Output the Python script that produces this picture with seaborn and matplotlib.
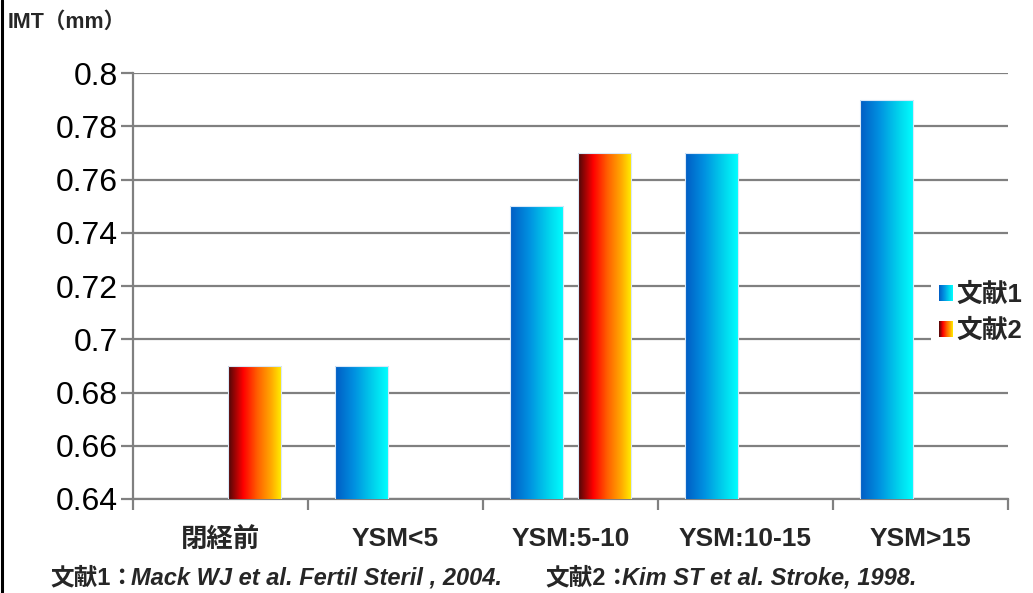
import numpy as np
import pandas as pd
import matplotlib
matplotlib.use("Agg")
import matplotlib.pyplot as plt
import seaborn as sns
from matplotlib.colors import LinearSegmentedColormap, to_rgb
from matplotlib.legend_handler import HandlerBase
from matplotlib.patches import Rectangle, Patch
from matplotlib.lines import Line2D

# ---- data ----
categories = ["閉経前", "YSM<5", "YSM:5-10", "YSM:10-15", "YSM>15"]
series_names = ["文献1", "文献2"]
values_ref1 = [np.nan, 0.69, 0.75, 0.77, 0.79]
values_ref2 = [0.69, np.nan, 0.77, np.nan, np.nan]
yticks = [0.64, 0.66, 0.68, 0.70, 0.72, 0.74, 0.76, 0.78, 0.80]
ytick_labels = ["0.64", "0.66", "0.68", "0.7", "0.72", "0.74", "0.76", "0.78", "0.8"]
y_label = "IMT（mm）"
footer_parts = [("文献1：", "normal"), ("Mack WJ et al. Fertil Steril , 2004.", "italic"),
                ("文献2：", "normal"), ("Kim ST et al. Stroke, 1998.", "italic")]

sns.set_theme(style="white")
plt.rcParams['font.family'] = ['Liberation Sans', 'Noto Sans CJK JP', 'DejaVu Sans']

df = pd.DataFrame({
    "category": categories * 2,
    "series": [series_names[0]] * len(categories) + [series_names[1]] * len(categories),
    "value": values_ref1 + values_ref2,
})

W, H = 1033, 593
fig = plt.figure(figsize=(W / 100, H / 100), dpi=100)
fig.patch.set_facecolor("white")
ax = fig.add_axes([133 / W, 1 - 499 / H, (1008 - 133) / W, (499 - 73) / H])

base_colors = ["#0090e0", "#ff4000"]
sns.barplot(data=df, x="category", y="value", hue="series", order=categories,
            hue_order=series_names, width=0.777, gap=0.22, errorbar=None,
            palette=base_colors, saturation=1, ax=ax, legend=False, zorder=3)

ax.set_ylim(0.64, 0.80)
ax.set_xlim(-0.5, len(categories) - 0.5)

cmap_blue = LinearSegmentedColormap.from_list(
    "b", [(0, "#005cc4"), (0.35, "#0090e0"), (0.75, "#00d8ee"), (1, "#00ffff")])
cmap_red = LinearSegmentedColormap.from_list(
    "r", [(0, "#4a0808"), (0.28, "#ff0000"), (0.55, "#ff6000"), (0.8, "#ffa800"), (1, "#fff000")])
grad = np.linspace(0, 1, 128)[np.newaxis, :]

base_rgb = [np.array(to_rgb(c)) for c in base_colors]
for p in list(ax.patches):
    h = p.get_height()
    if h is None or not np.isfinite(h) or h <= 0:
        continue
    x0 = p.get_x(); w = p.get_width()
    fc = np.array(p.get_facecolor()[:3])
    d = [np.sum((fc - b) ** 2) for b in base_rgb]
    cmap = cmap_blue if d[0] < d[1] else cmap_red
    im = ax.imshow(grad, cmap=cmap, extent=(x0, x0 + w, 0.64, h), aspect="auto", zorder=3.5)
    im.set_clip_path(p)
    p.set_facecolor("none")
    p.set_edgecolor("#d8e8f8")
    p.set_linewidth(0.8)
    p.set_zorder(4)

ax.set_ylim(0.64, 0.80)
ax.set_xlim(-0.5, len(categories) - 0.5)

# grid and spines
ax.set_axisbelow(True)
ax.yaxis.grid(True, color="#808080", linewidth=1.6)
ax.xaxis.grid(False)
for s in ["top", "right"]:
    ax.spines[s].set_visible(False)
for s in ["left", "bottom"]:
    ax.spines[s].set_color("#808080")
    ax.spines[s].set_linewidth(1.6)

ax.set_yticks(yticks)
ax.set_yticklabels(ytick_labels)
ax.tick_params(axis="y", left=True, length=9, width=1.6, color="#808080",
               direction="out", pad=2, labelsize=23, labelcolor="black")

ax.set_xticks(np.arange(-0.5, len(categories), 1.0))
ax.set_xticklabels([])
ax.tick_params(axis="x", which="major", bottom=True, length=8, width=1.6,
               color="#808080", direction="out")
ax.set_xticks(range(len(categories)), minor=True)
ax.set_xticklabels(categories, minor=True, fontsize=19, fontweight="bold")
ax.tick_params(axis="x", which="minor", bottom=True, length=0, pad=20)
ax.set_xlabel("")
ax.set_ylabel("")

# gradient legend handler
class GradHandler(HandlerBase):
    def __init__(self, cmap):
        super().__init__()
        self.cmap = cmap

    def create_artists(self, legend, orig_handle, xdescent, ydescent,
                       width, height, fontsize, trans):
        n = 14
        arts = []
        for i in range(n):
            r = Rectangle((-xdescent + i * width / n, -ydescent), width / n + 0.3, height,
                          facecolor=self.cmap((i + 0.5) / n), edgecolor="none",
                          transform=trans)
            arts.append(r)
        return arts

h1 = Patch(facecolor=base_colors[0])
h2 = Patch(facecolor=base_colors[1])
leg = fig.legend([h1, h2], series_names, loc="center left",
                 bbox_to_anchor=(918 / W, 1 - 313 / H),
                 handler_map={h1: GradHandler(cmap_blue), h2: GradHandler(cmap_red)},
                 handlelength=0.55, handleheight=0.55, handletextpad=0.15,
                 labelspacing=0.45, borderpad=0.3, frameon=True,
                 prop={"size": 18.5, "weight": "bold"})
leg.get_frame().set_facecolor("white")
leg.get_frame().set_edgecolor("none")
leg.get_frame().set_alpha(1)

# y-axis unit label
fig.text(8 / W, 1 - 22 / H, y_label, fontsize=15.5, fontweight="bold", va="center", ha="left")

# footer
footer_x = [50, 131, 545, 622]
for (txt, style), xp in zip(footer_parts, footer_x):
    fig.text(xp / W, 1 - 578 / H, txt, fontsize=17, fontweight="bold", fontstyle=style,
             va="center", ha="left")

# left black border line
fig.add_artist(Line2D([1.5 / W, 1.5 / W], [0, 1], transform=fig.transFigure,
                      color="black", linewidth=2.2))

fig.savefig("out.png", dpi=100, facecolor="white")
